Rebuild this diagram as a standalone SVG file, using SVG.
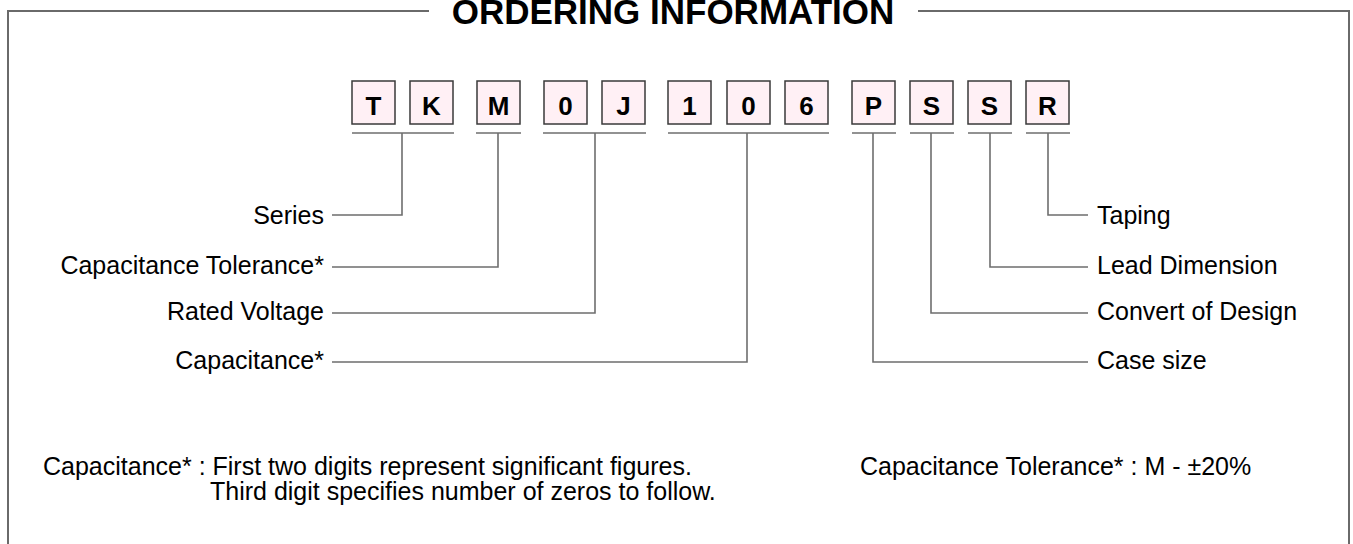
<svg xmlns="http://www.w3.org/2000/svg" width="1353" height="544" viewBox="0 0 1353 544">
<style>
text{font-family:"Liberation Sans",Arial,sans-serif;fill:#000}
.title{font-size:35px;font-weight:bold;text-anchor:middle}
.box rect{fill:#fff0f5;stroke:#3a3a3a;stroke-width:1.5}
.box text{font-size:26px;font-weight:bold;text-anchor:middle}
.lbl{font-size:25px}
.l{text-anchor:end}
.frame{fill:none;stroke:#6a6a6a;stroke-width:2}
.conn line,.conn polyline{fill:none;stroke:#6e6e6e;stroke-width:1.6}
</style>
<g id="frame">
<polyline class="frame" points="429,11 8,11 8,560"/>
<polyline class="frame" points="918,11 1349,11 1349,560"/>
<text class="title" x="673" y="24">ORDERING INFORMATION</text>
</g>
<g id="box-T" class="box"><rect x="352" y="81" width="43" height="43"/><text x="373.5" y="115">T</text></g>
<g id="box-K" class="box"><rect x="410" y="81" width="43" height="43"/><text x="431.5" y="115">K</text></g>
<g id="box-M" class="box"><rect x="477" y="81" width="43" height="43"/><text x="498.5" y="115">M</text></g>
<g id="box-0a" class="box"><rect x="544" y="81" width="43" height="43"/><text x="565.5" y="115">0</text></g>
<g id="box-J" class="box"><rect x="602" y="81" width="43" height="43"/><text x="623.5" y="115">J</text></g>
<g id="box-1" class="box"><rect x="668" y="81" width="43" height="43"/><text x="689.5" y="115">1</text></g>
<g id="box-0b" class="box"><rect x="727" y="81" width="43" height="43"/><text x="748.5" y="115">0</text></g>
<g id="box-6" class="box"><rect x="785" y="81" width="43" height="43"/><text x="806.5" y="115">6</text></g>
<g id="box-P" class="box"><rect x="852" y="81" width="43" height="43"/><text x="873.5" y="115">P</text></g>
<g id="box-S1" class="box"><rect x="910" y="81" width="43" height="43"/><text x="931.5" y="115">S</text></g>
<g id="box-S2" class="box"><rect x="968" y="81" width="43" height="43"/><text x="989.5" y="115">S</text></g>
<g id="box-R" class="box"><rect x="1026" y="81" width="43" height="43"/><text x="1047.5" y="115">R</text></g>
<g id="connectors" class="conn">
<line x1="352" y1="133" x2="454" y2="133"/>
<line x1="476" y1="133" x2="521" y2="133"/>
<line x1="543" y1="133" x2="646" y2="133"/>
<line x1="668" y1="133" x2="829" y2="133"/>
<line x1="852" y1="133" x2="896" y2="133"/>
<line x1="910" y1="133" x2="954" y2="133"/>
<line x1="968" y1="133" x2="1012" y2="133"/>
<line x1="1026" y1="133" x2="1070" y2="133"/>
<polyline points="402,133 402,215 332,215"/>
<polyline points="498,133 498,267 332,267"/>
<polyline points="595,133 595,313 332,313"/>
<polyline points="747,133 747,362 332,362"/>
<polyline points="1048,133 1048,215 1088,215"/>
<polyline points="990,133 990,267 1088,267"/>
<polyline points="931,133 931,313 1088,313"/>
<polyline points="873,133 873,362 1088,362"/>
</g>
<g id="labels-left">
<text class="lbl l" x="324" y="224">Series</text>
<text class="lbl l" x="324" y="274">Capacitance Tolerance*</text>
<text class="lbl l" x="324" y="320">Rated Voltage</text>
<text class="lbl l" x="324" y="369">Capacitance*</text>
</g>
<g id="labels-right">
<text class="lbl" x="1097" y="224">Taping</text>
<text class="lbl" x="1097" y="274">Lead Dimension</text>
<text class="lbl" x="1097" y="320">Convert of Design</text>
<text class="lbl" x="1097" y="369">Case size</text>
</g>
<g id="notes">
<text class="lbl" x="43" y="475">Capacitance* : First two digits represent significant figures.</text>
<text class="lbl" x="210" y="500">Third digit specifies number of zeros to follow.</text>
<text class="lbl" x="860" y="475">Capacitance Tolerance* : M - ±20%</text>
</g>
</svg>
